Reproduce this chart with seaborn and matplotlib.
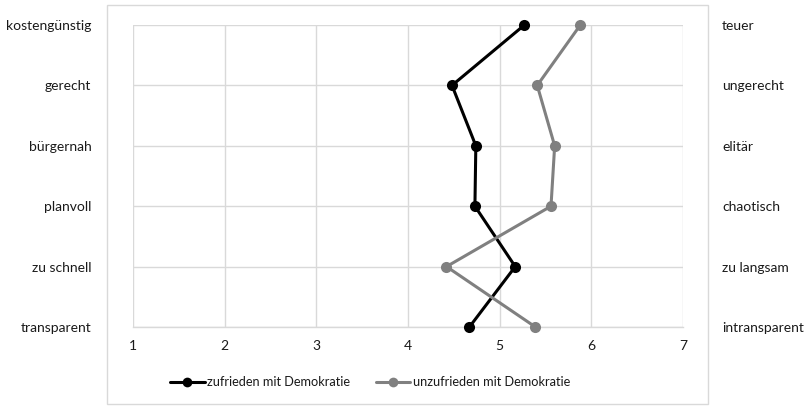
import matplotlib
matplotlib.use("Agg")
import matplotlib.pyplot as plt
import matplotlib.patches as mpatches
import seaborn as sns
import pandas as pd

# Semantic differential: left pole / right pole per item, mean rating on a 1–7 scale
left_labels = ["kostengünstig", "gerecht", "bürgernah", "planvoll", "zu schnell", "transparent"]
right_labels = ["teuer", "ungerecht", "elitär", "chaotisch", "zu langsam", "intransparent"]
zufrieden = [5.27, 4.48, 4.74, 4.73, 5.17, 4.67]
unzufrieden = [5.88, 5.41, 5.60, 5.56, 4.42, 5.39]
groups = ["zufrieden mit Demokratie", "unzufrieden mit Demokratie"]
x_ticks = [1, 2, 3, 4, 5, 6, 7]

rows = []
for g, vals in zip(groups, [zufrieden, unzufrieden]):
    for i, (lab, v) in enumerate(zip(left_labels, vals)):
        rows.append({"gruppe": g, "item": lab, "pos": i, "wert": v})
df = pd.DataFrame(rows)

sns.set_theme(style="white")
plt.rcParams["font.family"] = ["Lato", "DejaVu Sans"]
text_color = "#1a1a1a"

fig = plt.figure(figsize=(8.12, 4.11), dpi=100)
ax = fig.add_axes([133 / 812, 1 - 327 / 411, 550 / 812, 302 / 411])

# outer chart frame
fig.patches.append(mpatches.Rectangle((107 / 812, 1 - 404 / 411), 601 / 812, 399 / 411,
                                      transform=fig.transFigure, fill=False,
                                      edgecolor="#d9d9d9", linewidth=1.0, zorder=0))

palette = {groups[0]: "#000000", groups[1]: "#808080"}
sns.lineplot(data=df, x="wert", y="pos", hue="gruppe", sort=False, estimator=None,
             palette=palette, marker="o", markersize=8, markeredgewidth=0,
             linewidth=2.2, ax=ax, legend=False, clip_on=False, zorder=3)

ax.set_xlim(1, 7)
ax.set_ylim(len(left_labels) - 1, 0)
ax.set_xticks(x_ticks)
ax.set_xticklabels([str(t) for t in x_ticks])
ax.set_yticks(range(len(left_labels)))
ax.set_yticklabels(left_labels)
ax.grid(True, color="#d9d9d9", linewidth=1.0)
ax.set_axisbelow(True)
for side in ["top", "right", "left"]:
    ax.spines[side].set_visible(False)
ax.spines["bottom"].set_color("#d9d9d9")
ax.spines["bottom"].set_linewidth(1.0)
ax.tick_params(axis="y", length=0, pad=30, labelsize=10, labelcolor=text_color)
ax.tick_params(axis="x", length=0, pad=9, labelsize=10, labelcolor=text_color)
ax.set_xlabel("")
ax.set_ylabel("")

ax2 = ax.twinx()
ax2.set_ylim(ax.get_ylim())
ax2.set_yticks(range(len(right_labels)))
ax2.set_yticklabels(right_labels)
ax2.tick_params(axis="y", length=0, pad=28, labelsize=10, labelcolor=text_color)
for side in ["top", "right", "left", "bottom"]:
    ax2.spines[side].set_visible(False)

handles = [plt.Line2D([], [], color=palette[g], marker="o", markersize=7,
                      markeredgewidth=0, linewidth=2.2) for g in groups]
fig.legend(handles, groups, loc="center", bbox_to_anchor=(370 / 812, 1 - 382 / 411),
           ncol=2, frameon=False, fontsize=9.2, handlelength=2.7, handletextpad=0.2,
           columnspacing=2.0, labelcolor=text_color)

fig.savefig("out.png", dpi=100)
